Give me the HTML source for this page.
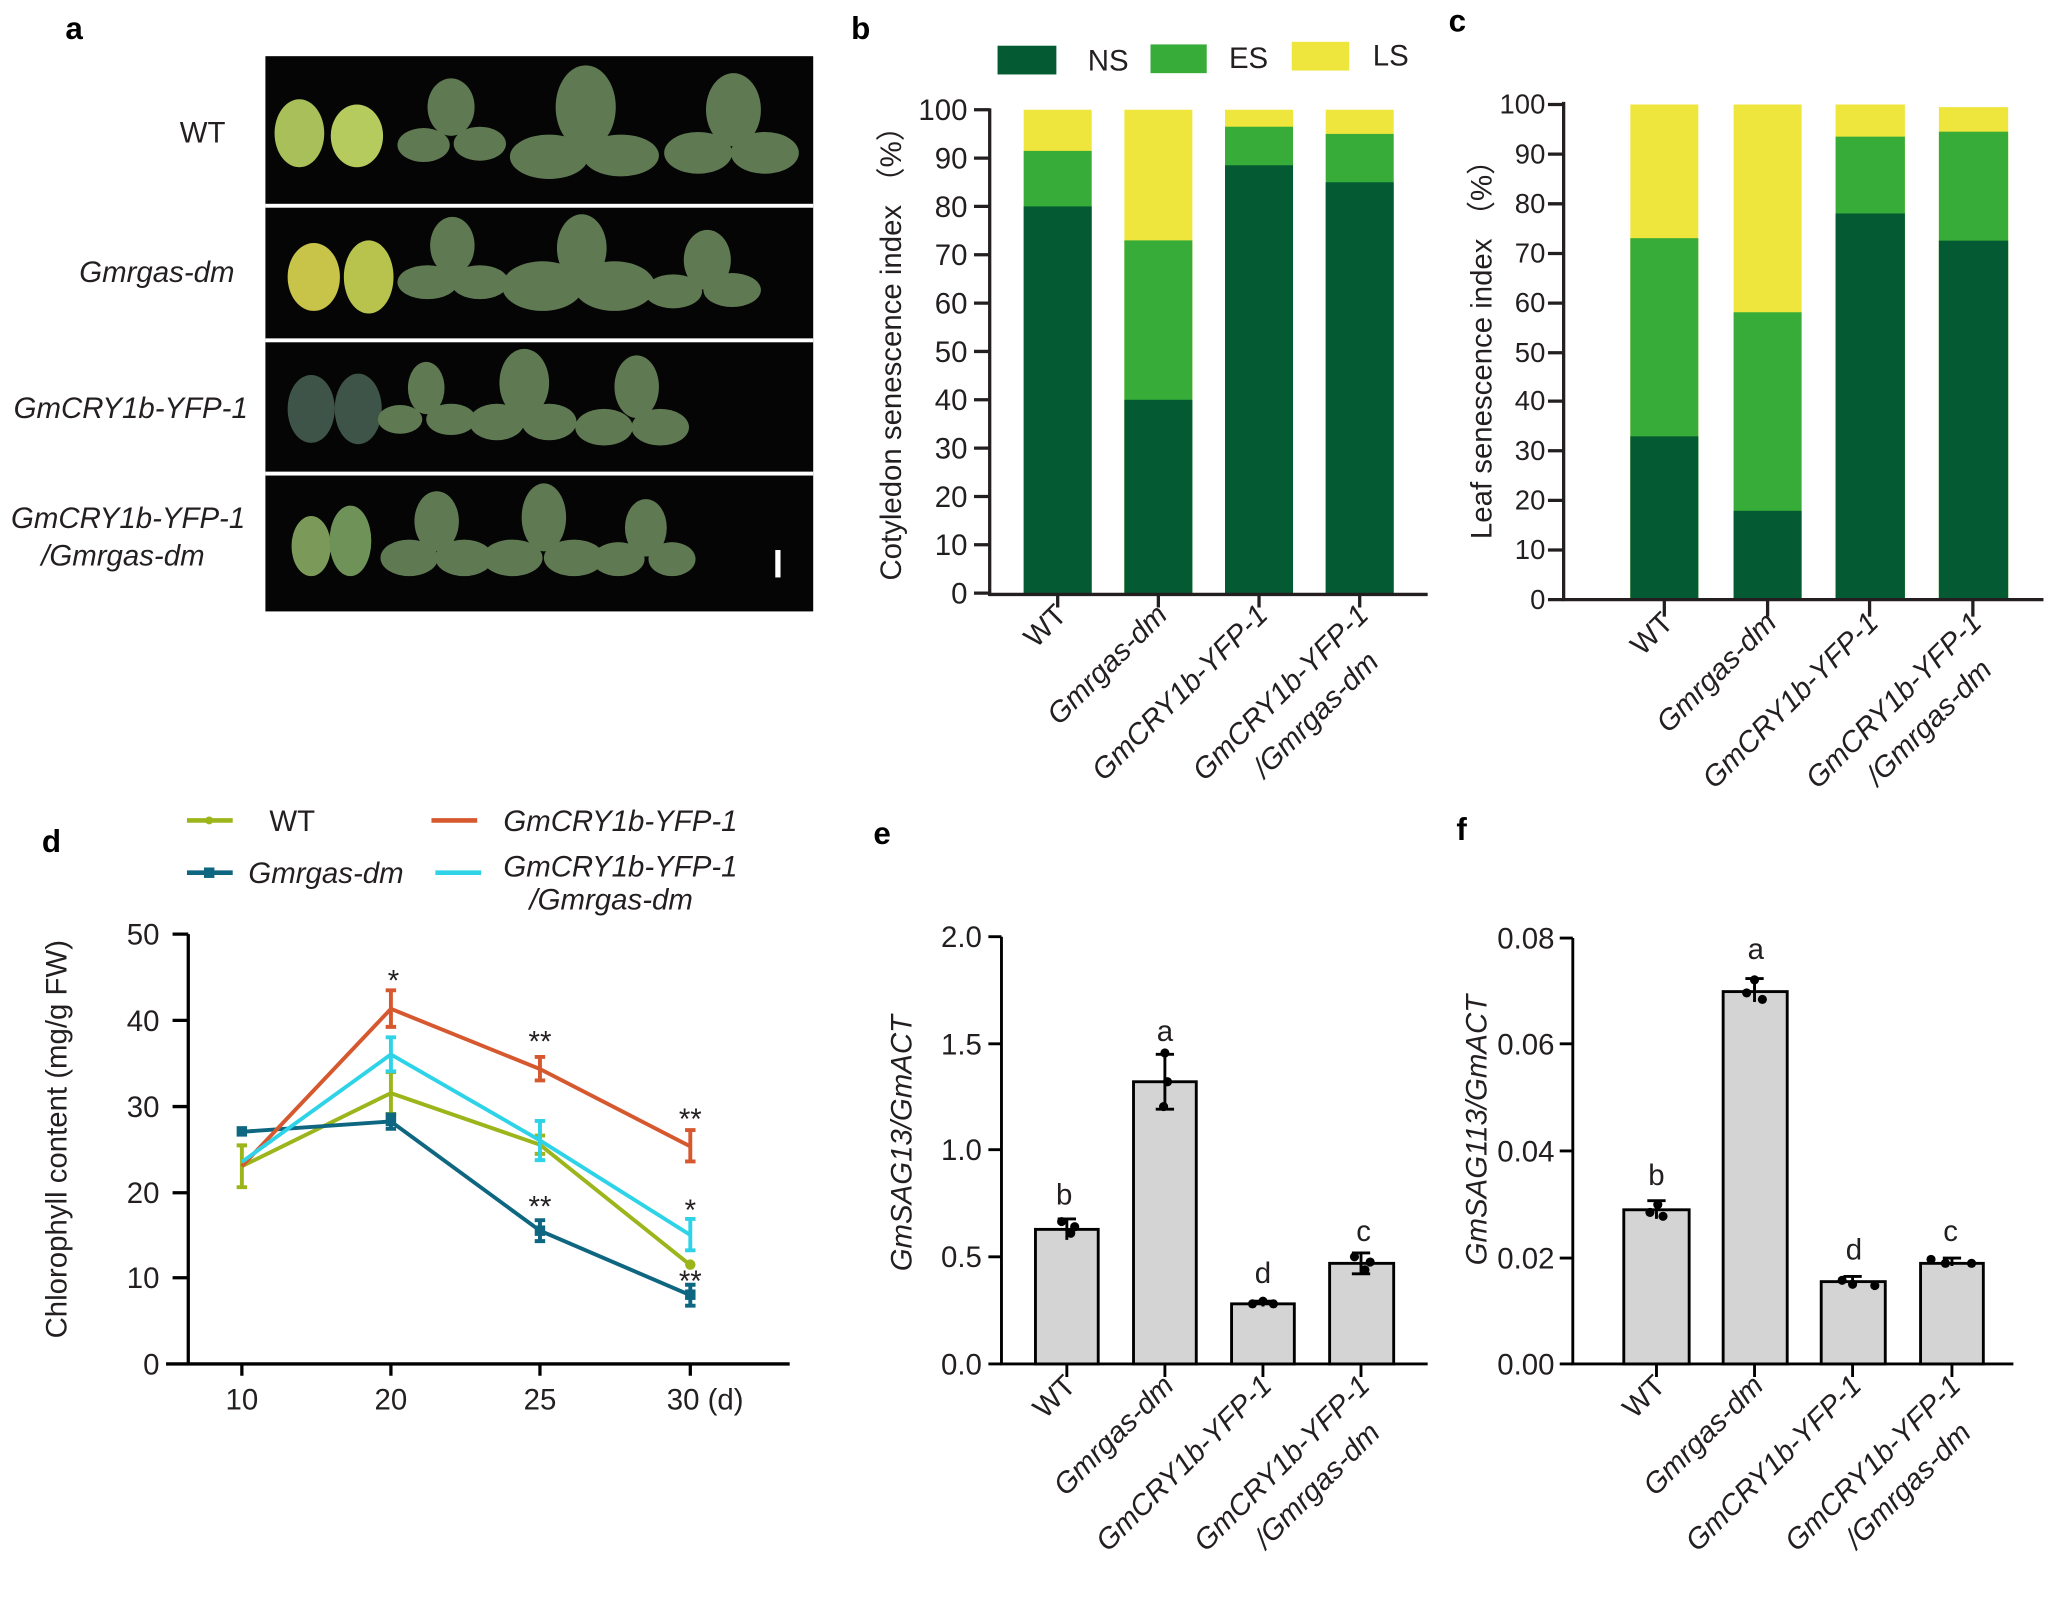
<!DOCTYPE html>
<html><head><meta charset="utf-8"><style>
html,body{margin:0;padding:0;background:#fff;}
svg{display:block;}
text{font-family:"Liberation Sans",sans-serif;fill:#231f20;}
.t{font-size:22.5px;}
.s{font-size:21px;}
.i{font-style:italic;}
.L{font-size:24px;font-weight:bold;fill:#000;}
</style></head><body>
<svg width="2050" height="1620" viewBox="0 0 1568 1240" preserveAspectRatio="none" xmlns="http://www.w3.org/2000/svg">
<rect width="1568" height="1240" fill="#fff"/>
<!-- panel a -->
<text class="L" x="50" y="30">a</text>
<rect x="203" y="43" width="419" height="425" fill="#050505"/>
<g fill="#fff"><rect x="203" y="156" width="419" height="3"/><rect x="203" y="259" width="419" height="3"/><rect x="203" y="361" width="419" height="3"/></g>
<g fill="#5f7a52">
<ellipse cx="229" cy="102" rx="19" ry="26" fill="#a9c05a"/><ellipse cx="273" cy="104" rx="20" ry="24" fill="#b6cb5d"/>
<ellipse cx="345" cy="82" rx="18" ry="22"/><ellipse cx="324" cy="111" rx="20" ry="13"/><ellipse cx="367" cy="110" rx="20" ry="13"/>
<ellipse cx="448" cy="82" rx="23" ry="32"/><ellipse cx="420" cy="120" rx="30" ry="17"/><ellipse cx="475" cy="119" rx="29" ry="16"/>
<ellipse cx="561" cy="84" rx="21" ry="28"/><ellipse cx="534" cy="117" rx="26" ry="16"/><ellipse cx="585" cy="117" rx="26" ry="16"/>
<ellipse cx="240" cy="212" rx="20" ry="26" fill="#c8c44a"/><ellipse cx="282" cy="212" rx="19" ry="28" fill="#b8c34e"/>
<ellipse cx="346" cy="188" rx="17" ry="22"/><ellipse cx="327" cy="216" rx="23" ry="13"/><ellipse cx="367" cy="216" rx="22" ry="13"/>
<ellipse cx="445" cy="190" rx="19" ry="26"/><ellipse cx="415" cy="219" rx="31" ry="19"/><ellipse cx="470" cy="219" rx="31" ry="19"/>
<ellipse cx="541" cy="199" rx="18" ry="23"/><ellipse cx="515" cy="223" rx="22" ry="13"/><ellipse cx="560" cy="222" rx="22" ry="13"/>
<ellipse cx="238" cy="313" rx="18" ry="26" fill="#3e5448"/><ellipse cx="274" cy="313" rx="18" ry="27" fill="#3e5448"/>
<ellipse cx="326" cy="297" rx="14" ry="20"/><ellipse cx="306" cy="321" rx="17" ry="11"/><ellipse cx="345" cy="321" rx="19" ry="12"/>
<ellipse cx="401" cy="293" rx="19" ry="26"/><ellipse cx="380" cy="323" rx="21" ry="14"/><ellipse cx="420" cy="323" rx="21" ry="14"/>
<ellipse cx="487" cy="296" rx="17" ry="24"/><ellipse cx="462" cy="327" rx="22" ry="14"/><ellipse cx="505" cy="327" rx="22" ry="14"/>
<ellipse cx="238" cy="418" rx="15" ry="23" fill="#7b9a5a"/><ellipse cx="268" cy="414" rx="16" ry="27" fill="#6f9258"/>
<ellipse cx="334" cy="399" rx="17" ry="23"/><ellipse cx="313" cy="427" rx="22" ry="14"/><ellipse cx="355" cy="427" rx="22" ry="14"/>
<ellipse cx="416" cy="396" rx="17" ry="26"/><ellipse cx="392" cy="427" rx="23" ry="14"/><ellipse cx="439" cy="427" rx="23" ry="14"/>
<ellipse cx="494" cy="404" rx="16" ry="22"/><ellipse cx="473" cy="428" rx="20" ry="13"/><ellipse cx="514" cy="428" rx="18" ry="13"/>
</g>
<rect x="593" y="421" width="4" height="21" fill="#fff"/>
<text class="t" x="155" y="109" text-anchor="middle">WT</text>
<text class="t i" x="120" y="216" text-anchor="middle">Gmrgas-dm</text>
<text class="t i" x="100" y="320" text-anchor="middle">GmCRY1b-YFP-1</text>
<text class="t i" x="98" y="404" text-anchor="middle">GmCRY1b-YFP-1</text>
<text class="t i" x="94" y="433" text-anchor="middle">/Gmrgas-dm</text>

<!-- panel b -->
<text class="L" x="651" y="30">b</text>
<rect x="763" y="35" width="45" height="22" fill="#045a32"/><text class="t" x="832" y="54">NS</text>
<rect x="880" y="34" width="43" height="22" fill="#38ac38"/><text class="t" x="940" y="52">ES</text>
<rect x="988" y="32" width="44" height="22" fill="#eee63c"/><text class="t" x="1050" y="50">LS</text>
<g>
<rect x="783" y="84" width="52" height="370" fill="#eee63c"/><rect x="783" y="115.5" width="52" height="338.5" fill="#38ac38"/><rect x="783" y="158" width="52" height="296" fill="#045a32"/>
<rect x="860" y="84" width="52" height="370" fill="#eee63c"/><rect x="860" y="184" width="52" height="270" fill="#38ac38"/><rect x="860" y="306" width="52" height="148" fill="#045a32"/>
<rect x="937" y="84" width="52" height="370" fill="#eee63c"/><rect x="937" y="97" width="52" height="357" fill="#38ac38"/><rect x="937" y="126.5" width="52" height="327.5" fill="#045a32"/>
<rect x="1014" y="84" width="52" height="370" fill="#eee63c"/><rect x="1014" y="102.5" width="52" height="351.5" fill="#38ac38"/><rect x="1014" y="139.5" width="52" height="314.5" fill="#045a32"/>
</g>
<g stroke="#231f20" stroke-width="2.5" fill="none">
<path d="M757 83V455H1092"/>
<path d="M745 84H757M745 121H757M745 158H757M745 195H757M745 232H757M745 269H757M745 306H757M745 343H757M745 380H757M745 417H757M745 454H757"/>
<path d="M809 455v10M886 455v10M963 455v10M1040 455v10"/>
</g>
<g class="t" text-anchor="end">
<text x="740" y="92">100</text><text x="740" y="129">90</text><text x="740" y="166">80</text><text x="740" y="203">70</text><text x="740" y="240">60</text><text x="740" y="277">50</text><text x="740" y="314">40</text><text x="740" y="351">30</text><text x="740" y="388">20</text><text x="740" y="425">10</text><text x="740" y="462">0</text>
</g>
<text class="t" transform="translate(689,265) rotate(-90)" text-anchor="middle" style="font-family:'Liberation Sans','Noto Sans CJK SC',sans-serif">Cotyledon senescence index （%）</text>
<g class="t" text-anchor="end">
<text transform="translate(817,472) rotate(-45)">WT</text>
<text class="i" transform="translate(894,472) rotate(-45)">Gmrgas-dm</text>
<text class="i" transform="translate(971,472) rotate(-45)">GmCRY1b-YFP-1</text>
<g transform="translate(1048,472) rotate(-45)"><text class="i">GmCRY1b-YFP-1</text><text class="i" x="-20" y="31">/Gmrgas-dm</text></g>
</g>

<!-- panel c -->
<text class="L" x="1108" y="24">c</text>
<g>
<rect x="1247" y="80" width="52" height="379" fill="#eee63c"/><rect x="1247" y="182.3" width="52" height="276.7" fill="#38ac38"/><rect x="1247" y="334" width="52" height="125" fill="#045a32"/>
<rect x="1326" y="80" width="52" height="379" fill="#eee63c"/><rect x="1326" y="239" width="52" height="220" fill="#38ac38"/><rect x="1326" y="391" width="52" height="68" fill="#045a32"/>
<rect x="1404" y="80" width="53" height="379" fill="#eee63c"/><rect x="1404" y="104.6" width="53" height="354.4" fill="#38ac38"/><rect x="1404" y="163.4" width="53" height="295.6" fill="#045a32"/>
<rect x="1483" y="82" width="53" height="377" fill="#eee63c"/><rect x="1483" y="100.8" width="53" height="358.2" fill="#38ac38"/><rect x="1483" y="184.2" width="53" height="274.8" fill="#045a32"/>
</g>
<g stroke="#231f20" stroke-width="2.5" fill="none">
<path d="M1196 78V459H1563"/>
<path d="M1184 80H1196M1184 118H1196M1184 156H1196M1184 194H1196M1184 232H1196M1184 270H1196M1184 307H1196M1184 345H1196M1184 383H1196M1184 421H1196M1184 459H1196"/>
<path d="M1273 459v13M1352 459v13M1430 459v13M1509 459v13"/>
</g>
<g class="s" text-anchor="end">
<text x="1182" y="87">100</text><text x="1182" y="125">90</text><text x="1182" y="163">80</text><text x="1182" y="201">70</text><text x="1182" y="239">60</text><text x="1182" y="277">50</text><text x="1182" y="314">40</text><text x="1182" y="352">30</text><text x="1182" y="390">20</text><text x="1182" y="428">10</text><text x="1182" y="466">0</text>
</g>
<text class="t" transform="translate(1141,262) rotate(-90)" text-anchor="middle" style="font-family:'Liberation Sans','Noto Sans CJK SC',sans-serif">Leaf senescence index （%）</text>
<g class="t" text-anchor="end">
<text transform="translate(1281,478) rotate(-45)">WT</text>
<text class="i" transform="translate(1360,478) rotate(-45)">Gmrgas-dm</text>
<text class="i" transform="translate(1438,478) rotate(-45)">GmCRY1b-YFP-1</text>
<g transform="translate(1517,478) rotate(-45)"><text class="i">GmCRY1b-YFP-1</text><text class="i" x="-20" y="31">/Gmrgas-dm</text></g>
</g>

<!-- panel d -->
<text class="L" x="32" y="652">d</text>
<g stroke-width="3.5" fill="none">
<path d="M143 628H178" stroke="#9bb51a"/><path d="M330 628H365" stroke="#d6582f"/>
<path d="M143 668H178" stroke="#0e6680"/><path d="M333 668H368" stroke="#2ed3e8"/>
</g>
<circle cx="160" cy="628" r="3" fill="#9bb51a"/><rect x="156" y="664" width="8" height="8" fill="#0e6680"/>
<text class="t" x="206" y="636">WT</text>
<text class="t i" x="385" y="636">GmCRY1b-YFP-1</text>
<text class="t i" x="190" y="676">Gmrgas-dm</text>
<text class="t i" x="385" y="671">GmCRY1b-YFP-1</text>
<text class="t i" x="405" y="696">/Gmrgas-dm</text>
<g stroke="#000" stroke-width="2.5" fill="none">
<path d="M144 715V1044M127 1044H604"/>
<path d="M132 715H144M132 781H144M132 847H144M132 913H144M132 978H144"/>
<path d="M185 1044v9M299 1044v9M413 1044v9M528 1044v9"/>
</g>
<g class="t" text-anchor="end">
<text x="122" y="723">50</text><text x="122" y="789">40</text><text x="122" y="855">30</text><text x="122" y="921">20</text><text x="122" y="986">10</text><text x="122" y="1052">0</text>
</g>
<g class="t" text-anchor="middle"><text x="185" y="1079">10</text><text x="299" y="1079">20</text><text x="413" y="1079">25</text><text x="510" y="1079" text-anchor="start">30 (d)</text></g>
<text class="t" transform="translate(51,872) rotate(-90)" text-anchor="middle">Chlorophyll content (mg/g FW)</text>
<g fill="none" stroke-width="3">
<g stroke="#9bb51a"><path d="M185 892.7L299 836.7L413 876.2L528 968.3"/><path d="M185 876.7v32M181 876.7h8M181 908.7h8M299 820.7v32M295 820.7h8M295 852.7h8M413 869.2v14M409 869.2h8M409 883.2h8"/></g>
<g stroke="#0e6680"><path d="M185 866.3L299 858.4L413 942L528 991.4"/><path d="M413 934v16M409 934h8M409 950h8M528 983.4v16M524 983.4h8M524 999.4h8M299 853v11M295 853h8M295 864h8"/></g>
<g stroke="#d6582f"><path d="M185 892.7L299 772.2L413 818.3L528 877.5"/><path d="M299 758v28M295 758h8M295 786h8M413 809v18M409 809h8M409 827h8M528 865v24M524 865h8M524 889h8"/></g>
<g stroke="#2ed3e8"><path d="M185 889.4L299 807.1L413 872.9L528 945.3"/><path d="M299 794v26M295 794h8M295 820h8M413 858v30M409 858h8M409 888h8M528 933v24M524 933h8M524 957h8"/></g>
</g>
<rect x="181" y="862" width="8" height="8" fill="#0e6680"/><rect x="295" y="854" width="8" height="8" fill="#0e6680"/><rect x="409" y="938" width="8" height="8" fill="#0e6680"/><rect x="524" y="987" width="8" height="8" fill="#0e6680"/>
<circle cx="528" cy="968" r="4" fill="#9bb51a"/>
<g class="t" text-anchor="middle"><text x="301" y="758">*</text><text x="413" y="805">**</text><text x="528" y="864">**</text><text x="413" y="931">**</text><text x="528" y="934">*</text><text x="528" y="988">**</text></g>

<!-- panel e -->
<text class="L" x="668" y="646">e</text>
<g stroke="#000" stroke-width="2.2" fill="#d4d4d4">
<rect x="792" y="941" width="48" height="103"/><rect x="867" y="828" width="48" height="216"/><rect x="942" y="998" width="48" height="46"/><rect x="1017" y="967" width="49" height="77"/>
</g>
<g stroke="#000" stroke-width="2.2" fill="none">
<path d="M816 933v16M809 933h14M891 807v42M884 807h14M884 849h14M966 996v4M959 996h14M1041 959v16M1034 959h14M1034 975h14"/>
<path d="M766 717V1044H1092"/>
<path d="M756 717H766M756 799H766M756 880H766M756 962H766M756 1044H766"/>
<path d="M816 1044v10M891 1044v10M966 1044v10M1041 1044v10"/>
</g>
<g fill="#000"><circle cx="812" cy="935" r="3.5"/><circle cx="819" cy="944" r="3.5"/><circle cx="822" cy="939" r="3.5"/><circle cx="891" cy="806" r="3.5"/><circle cx="893" cy="828" r="3.5"/><circle cx="890" cy="847" r="3.5"/><circle cx="958" cy="998" r="3.5"/><circle cx="966" cy="996" r="3.5"/><circle cx="974" cy="998" r="3.5"/><circle cx="1036" cy="962" r="3.5"/><circle cx="1044" cy="972" r="3.5"/><circle cx="1048" cy="966" r="3.5"/></g>
<g class="t" text-anchor="end"><text x="751" y="725">2.0</text><text x="751" y="807">1.5</text><text x="751" y="888">1.0</text><text x="751" y="970">0.5</text><text x="751" y="1052">0.0</text></g>
<text class="t i" transform="translate(697,875) rotate(-90)" text-anchor="middle">GmSAG13/GmACT</text>
<g class="t" text-anchor="middle"><text x="814" y="922">b</text><text x="891" y="797">a</text><text x="966" y="982">d</text><text x="1043" y="950">c</text></g>
<g class="t" text-anchor="end">
<text transform="translate(824,1062) rotate(-45)">WT</text>
<text class="i" transform="translate(899,1062) rotate(-45)">Gmrgas-dm</text>
<text class="i" transform="translate(974,1062) rotate(-45)">GmCRY1b-YFP-1</text>
<g transform="translate(1049,1062) rotate(-45)"><text class="i">GmCRY1b-YFP-1</text><text class="i" x="-20" y="31">/Gmrgas-dm</text></g>
</g>

<!-- panel f -->
<text class="L" x="1114" y="643">f</text>
<g stroke="#000" stroke-width="2.2" fill="#d4d4d4">
<rect x="1242" y="926" width="50" height="118"/><rect x="1318" y="759" width="49" height="285"/><rect x="1393" y="981" width="49" height="63"/><rect x="1469" y="967" width="48" height="77"/>
</g>
<g stroke="#000" stroke-width="2.2" fill="none">
<path d="M1267 919v14M1260 919h14M1342 749v18M1335 749h14M1417 977v8M1410 977h14M1493 963v6M1486 963h14"/>
<path d="M1203 718V1044H1540"/>
<path d="M1193 718H1203M1193 799H1203M1193 881H1203M1193 963H1203M1193 1044H1203"/>
<path d="M1267 1044v10M1342 1044v10M1417 1044v10M1493 1044v10"/>
</g>
<g fill="#000"><circle cx="1262" cy="928" r="3.5"/><circle cx="1268" cy="922" r="3.5"/><circle cx="1272" cy="931" r="3.5"/><circle cx="1336" cy="760" r="3.5"/><circle cx="1342" cy="750" r="3.5"/><circle cx="1348" cy="765" r="3.5"/><circle cx="1409" cy="980" r="3.5"/><circle cx="1417" cy="983" r="3.5"/><circle cx="1434" cy="984" r="3.5"/><circle cx="1477" cy="964" r="3.5"/><circle cx="1488" cy="967" r="3.5"/><circle cx="1508" cy="967" r="3.5"/></g>
<g class="t" text-anchor="end"><text x="1189" y="726">0.08</text><text x="1189" y="807">0.06</text><text x="1189" y="889">0.04</text><text x="1189" y="971">0.02</text><text x="1189" y="1052">0.00</text></g>
<text class="t i" transform="translate(1137,865) rotate(-90)" text-anchor="middle">GmSAG113/GmACT</text>
<g class="t" text-anchor="middle"><text x="1267" y="907">b</text><text x="1343" y="734">a</text><text x="1418" y="964">d</text><text x="1492" y="950">c</text></g>
<g class="t" text-anchor="end">
<text transform="translate(1275,1062) rotate(-45)">WT</text>
<text class="i" transform="translate(1350,1062) rotate(-45)">Gmrgas-dm</text>
<text class="i" transform="translate(1425,1062) rotate(-45)">GmCRY1b-YFP-1</text>
<g transform="translate(1501,1062) rotate(-45)"><text class="i">GmCRY1b-YFP-1</text><text class="i" x="-20" y="31">/Gmrgas-dm</text></g>
</g>
</svg>
</body></html>
